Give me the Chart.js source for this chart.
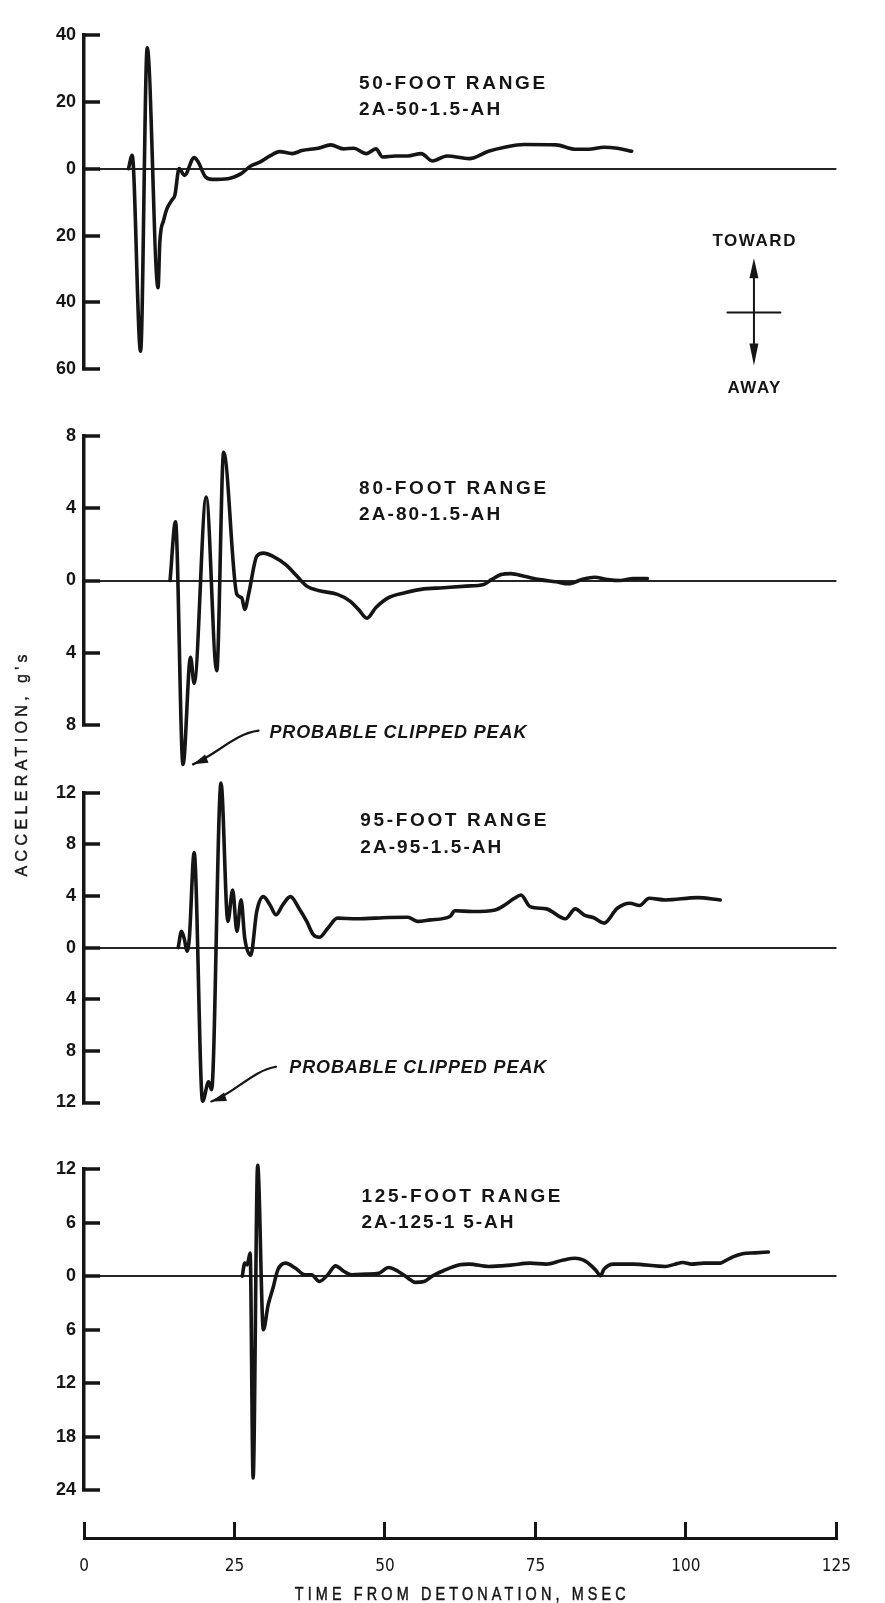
<!DOCTYPE html>
<html lang="en">
<head>
<meta charset="utf-8">
<title>Acceleration records, shot 2A</title>
<script src="https://cdn.jsdelivr.net/npm/chart.js@4.4.1/dist/chart.umd.min.js"></script>
<style>
  html, body { margin: 0; padding: 0; background: #fff; }
  canvas { display: block; }
</style>
</head>
<body>
<canvas id="records" width="885" height="1603"></canvas>
<script>
// ---- time axis (ms after detonation) ----
const timeTicks = [0, 25, 50, 75, 100, 125];

// ---- 50-foot range, gauge 2A-50-1.5-AH ----
const t50 = [7.4, 8.0, 9.4, 10.5, 12.3, 12.6, 13.25, 13.8, 14.6, 15.1, 15.8, 16.7, 18.3, 18.9, 20.2, 21.3,
             23.9, 26.1, 27.7, 29.3, 30.9, 32.5, 34.6, 36.2, 38.9, 41.0, 43.1, 44.8, 46.9, 48.5, 49.6, 51.7,
             53.8, 56.0, 57.9, 60.3, 64.0, 67.2, 69.9, 73.1, 78.4, 81.6, 83.8, 86.4, 88.6, 91.0];
const g50 = [0, 4.0, -54.6, 36.1, -35.6, -21.8, -15.3, -11.9, -9.4, -7.9, 0, -2.0, 3.3, 2.2, -2.5, -3.2,
             -3.0, -1.5, 0.8, 2.0, 3.8, 5.1, 4.5, 5.4, 6.1, 7.1, 5.9, 6.1, 4.5, 5.9, 3.5, 3.8,
             3.8, 4.5, 2.3, 3.8, 3.0, 5.2, 6.4, 7.2, 7.1, 5.8, 5.8, 6.4, 6.1, 5.2];
const ticks50 = [-60, -40, -20, 0, 20, 40];

// ---- 80-foot range, gauge 2A-80-1.5-AH ----
const t80 = [14.3, 15.2, 16.45, 17.7, 18.3, 20.3, 22.05, 23.2, 25.4, 26.2, 26.7, 27.4, 28.7, 29.8, 31.4, 33.5,
             35.4, 37.0, 38.9, 42.1, 44.2, 45.6, 47.0, 48.5, 50.6, 53.3, 56.0, 59.7, 63.5, 66.4, 67.7, 69.3,
             70.9, 73.1, 75.7, 78.4, 80.5, 82.7, 84.8, 87.0, 89.1, 91.2, 93.6];
const g80 = [0, 3.26, -10.2, -4.25, -5.7, 4.63, -5.0, 7.1, -0.77, -0.95, -1.6, -0.68, 1.34, 1.52, 1.34, 0.88,
             0.24, -0.31, -0.55, -0.77, -1.14, -1.6, -2.09, -1.5, -0.95, -0.68, -0.49, -0.4, -0.31, -0.22, 0.05, 0.33,
             0.38, 0.24, 0.05, -0.07, -0.18, 0.05, 0.18, 0.05, 0, 0.11, 0.11];
const ticks80 = [-8, -4, 0, 4, 8];

// ---- 95-foot range, gauge 2A-95-1.5-AH ----
const t95 = [15.65, 16.2, 16.7, 17.1, 17.5, 18.3, 19.7, 20.7, 21.2, 22.76, 23.9, 24.7, 25.4, 26.1, 26.7, 27.7,
             28.7, 29.8, 30.9, 31.9, 33.0, 34.3, 35.7, 37.0, 38.1, 39.1, 40.5, 42.1, 45.3, 50.6, 53.8, 55.4,
             57.6, 60.8, 61.6, 64.5, 68.3, 69.9, 71.5, 72.6, 74.1, 76.8, 80.0, 81.6, 83.2, 84.6, 86.4, 88.6,
             90.7, 92.3, 93.9, 96.6, 101.9, 105.7];
const g95 = [0, 1.26, 0.6, -0.28, 0.74, 7.36, -11.9, -10.4, -11.0, 12.74, 2.03, 4.46, 1.26, 3.7, 0.74, -0.59,
             2.8, 3.95, 3.3, 2.54, 3.3, 3.95, 3.05, 2.03, 1.0, 0.8, 1.5, 2.28, 2.23, 2.33, 2.35, 2.03,
             2.15, 2.41, 2.85, 2.8, 2.92, 3.3, 3.82, 4.08, 3.18, 3.0, 2.23, 3.0, 2.49, 2.33, 1.9, 3.05,
             3.44, 3.26, 3.82, 3.69, 3.87, 3.69];
const ticks95 = [-12, -8, -4, 0, 4, 8, 12];

// ---- 125-foot range, gauge 2A-125-1.5-AH ----
const t125 = [26.3, 26.7, 27.1, 27.6, 28.1, 28.85, 29.8, 30.6, 31.4, 32.2, 33.5, 35.1, 36.7, 37.8, 39.1, 40.5,
              41.8, 43.2, 44.5, 46.9, 49.0, 50.6, 52.2, 53.8, 55.0, 56.5, 58.1, 59.7, 62.4, 64.0, 67.2, 70.9,
              74.1, 76.8, 79.5, 81.6, 83.0, 84.3, 85.1, 85.8, 86.4, 88.0, 91.2, 96.6, 98.2, 99.5, 100.9, 103.0,
              105.7, 106.5, 107.8, 109.4, 111.5, 113.7];
const g125 = [0, 1.45, 1.26, 2.57, -22.6, 12.4, -6.0, -3.2, -1.34, 0.7, 1.45, 0.9, 0.15, 0.15, -0.6, 0.15,
              1.15, 0.52, 0.15, 0.22, 0.33, 0.97, 0.52, -0.2, -0.7, -0.6, 0.1, 0.6, 1.26, 1.34, 1.08, 1.23,
              1.45, 1.34, 1.78, 2.0, 1.78, 1.15, 0.6, 0.04, 0.78, 1.34, 1.34, 1.08, 1.34, 1.52, 1.34, 1.45,
              1.45, 1.7, 2.15, 2.5, 2.6, 2.7];
const ticks125 = [-24, -18, -12, -6, 0, 6, 12];

// ---- text ----
const captions50 = ['50-FOOT RANGE', '2A-50-1.5-AH'];
const captions80 = ['80-FOOT RANGE', '2A-80-1.5-AH'];
const captions95 = ['95-FOOT RANGE', '2A-95-1.5-AH'];
const captions125 = ['125-FOOT RANGE', '2A-125-1 5-AH'];
const clipNote = 'PROBABLE CLIPPED PEAK';
const yTitle = "ACCELERATION, g's";
const xTitle = 'TIME FROM DETONATION, MSEC';
const senseWords = ['TOWARD', 'AWAY'];

// ---- styling ----
const INK = '#151515';
const SANS = '"Liberation Sans", Arial, sans-serif';
const NARROW = '"Liberation Sans Narrow", "DejaVu Sans Condensed", "Liberation Sans", sans-serif';
const AXIS_W = 84;

function points(ts, gs) { return ts.map((t, i) => ({ x: t, y: gs[i] })); }

// one gauge's vertical scale, stacked in a single left column
function gaugeScale(ticks, weight, height) {
  return {
    type: 'linear', position: 'left', stack: 'gauges', stackWeight: height, weight,
    min: ticks[0], max: ticks[ticks.length - 1],
    afterBuildTicks: s => { s.ticks = ticks.map(v => ({ value: v })); },
    afterFit: s => { s.width = AXIS_W; },
    ticks: {
      callback: v => String(Math.abs(v)), color: INK, padding: 24,
      font: { family: SANS, size: 18, weight: 'bold' }
    },
    grid: {
      drawOnChartArea: true, drawTicks: true, tickLength: -16, tickWidth: 3.5, tickColor: INK,
      lineWidth: 2, color: c => (c.tick && c.tick.value === 0) ? '#262626' : 'rgba(0,0,0,0)'
    },
    border: { display: true, color: INK, width: 3.5 }
  };
}
// empty band between two gauges
function gapScale(weight, height) {
  return {
    type: 'linear', position: 'left', stack: 'gauges', stackWeight: height, weight, min: 0, max: 1,
    afterFit: s => { s.width = AXIS_W; },
    ticks: { display: false }, grid: { display: false }, border: { display: false }
  };
}

function trace(ts, gs, axis) {
  return {
    data: points(ts, gs), yAxisID: axis, xAxisID: 'x',
    borderColor: INK, borderWidth: 3.6, pointRadius: 0, fill: false,
    cubicInterpolationMode: 'monotone', borderJoinStyle: 'round', borderCapStyle: 'round', clip: false
  };
}

// text stretched to a given run length, anchored at its left end on the cap-height centre
function spaced(ctx, text, x, y, width, size, font, opts = {}) {
  ctx.save();
  ctx.font = font;
  ctx.letterSpacing = '0px';
  const sx = opts.squeeze || 1;
  const n = [...text].length;
  const w0 = ctx.measureText(text).width * sx;
  const sp = n > 1 ? (width - w0) / (n - 1) / sx : 0;
  ctx.letterSpacing = sp.toFixed(2) + 'px';
  ctx.textAlign = 'left';
  ctx.textBaseline = 'alphabetic';
  ctx.translate(x, y);
  if (opts.rotate) ctx.rotate(opts.rotate);
  ctx.scale(sx, 1);
  const base = size * 0.36;
  ctx.fillText(text, 0, base);
  if (opts.stroke) { ctx.lineWidth = opts.stroke; ctx.strokeText(text, 0, base); }
  ctx.restore();
}

function head(ctx, tx, ty, fx, fy, len, half) {
  const a = Math.atan2(ty - fy, tx - fx), c = Math.cos(a), s = Math.sin(a);
  ctx.beginPath();
  ctx.moveTo(tx, ty);
  ctx.lineTo(tx - len * c + half * s, ty - len * s - half * c);
  ctx.lineTo(tx - len * c - half * s, ty - len * s + half * c);
  ctx.closePath();
  ctx.fill();
}

// caption blocks, placed in (ms, g) of their own gauge
const captions = [
  { axis: 'y50', t: 45.7, g: 25.7, lines: captions50, widths: [186, 141], lead: 26 },
  { axis: 'y80', t: 45.7, g: 5.2, lines: captions80, widths: [187, 141], lead: 26 },
  { axis: 'y95', t: 45.9, g: 9.92, lines: captions95, widths: [186, 141], lead: 27 },
  { axis: 'y125', t: 46.1, g: 9.08, lines: captions125, widths: [199, 152], lead: 26 }
];
// clipped-peak remarks: text anchor and leader curve (cubic), in (ms, g)
const clipRemarks = [
  { axis: 'y80', at: [30.8, -8.37], leader: [[29.0, -8.32], [25.0, -8.49], [22.1, -9.64], [18.1, -10.19]] },
  { axis: 'y95', at: [34.1, -9.23], leader: [[31.9, -9.23], [27.9, -9.54], [25.0, -11.31], [21.15, -11.92]] }
];

const notes = {
  id: 'notes',
  afterDraw(chart) {
    const { ctx, scales } = chart;
    const X = v => scales.x.getPixelForValue(v);
    const Y = (id, v) => scales[id].getPixelForValue(v);
    ctx.save();
    ctx.fillStyle = INK;
    ctx.strokeStyle = INK;

    captions.forEach(c => {
      const x = X(c.t), y = Y(c.axis, c.g);
      c.lines.forEach((line, i) =>
        spaced(ctx, line, x, y + i * c.lead, c.widths[i], 19, 'bold 19px ' + SANS));
    });

    clipRemarks.forEach(r => {
      spaced(ctx, clipNote, X(r.at[0]), Y(r.axis, r.at[1]), 257, 18, 'italic bold 18px ' + SANS);
      const p = r.leader.map(([t, g]) => [X(t), Y(r.axis, g)]);
      ctx.lineWidth = 2.2;
      ctx.lineCap = 'round';
      ctx.beginPath();
      ctx.moveTo(p[0][0], p[0][1]);
      ctx.bezierCurveTo(p[1][0], p[1][1], p[2][0], p[2][1], p[3][0], p[3][1]);
      ctx.stroke();
      head(ctx, p[3][0], p[3][1], p[2][0], p[2][1], 15, 4.5);
    });

    // sense of motion key
    const kx = X(111.3);
    spaced(ctx, senseWords[0], kx - 41.5, Y('y50', -21.2), 83, 17, 'bold 17px ' + SANS);
    spaced(ctx, senseWords[1], kx - 26.5, Y('y50', -65.1), 53, 17, 'bold 17px ' + SANS);
    const top = Y('y50', -26.8), bot = Y('y50', -58.8), bar = Y('y50', -43.0);
    ctx.lineWidth = 2;
    ctx.beginPath();
    ctx.moveTo(kx, top + 10); ctx.lineTo(kx, bot - 10);
    ctx.moveTo(X(106.9), bar); ctx.lineTo(X(115.7), bar);
    ctx.stroke();
    head(ctx, kx, top, kx, top + 30, 20, 4.5);
    head(ctx, kx, bot, kx, bot - 30, 22, 4.5);

    // axis titles
    const yMid = Y('y80', -10.25);
    spaced(ctx, yTitle, 21, yMid + 111, 222, 16, '16px ' + SANS, { rotate: -Math.PI / 2, stroke: 0.4 });
    const xMid = X(62.5);
    spaced(ctx, xTitle, xMid - 165.5, chart.height - 9, 331, 18, '18px ' + SANS, { squeeze: 0.8, stroke: 0.5 });
    ctx.restore();
  }
};

Chart.defaults.color = INK;
Chart.defaults.font.family = SANS;

new Chart(document.getElementById('records'), {
  type: 'line',
  data: {
    datasets: [
      trace(t50, g50, 'y50'),
      trace(t80, g80, 'y80'),
      trace(t95, g95, 'y95'),
      trace(t125, g125, 'y125')
    ]
  },
  options: {
    responsive: false,
    animation: false,
    events: [],
    layout: { padding: { top: 22.7, right: 21, bottom: 0, left: 0 } },
    plugins: { legend: { display: false }, tooltip: { enabled: false }, title: { display: false } },
    scales: {
      x: {
        type: 'linear', position: 'bottom', min: 0, max: 125,
        afterBuildTicks: s => { s.ticks = timeTicks.map(v => ({ value: v })); },
        afterFit: s => { s.height = 65; },
        ticks: { color: INK, padding: 34, maxRotation: 0, autoSkip: false, font: { family: NARROW, size: 17 } },
        grid: { drawOnChartArea: false, drawTicks: true, tickLength: -16, tickWidth: 3, tickColor: INK, color: INK },
        border: { display: true, color: INK, width: 3 }
      },
      y50: gaugeScale(ticks50, 8, 337.3),
      gap1: gapScale(7, 67.3),
      y80: gaugeScale(ticks80, 6, 291),
      gap2: gapScale(5, 68.4),
      y95: gaugeScale(ticks95, 4, 312.3),
      gap3: gapScale(3, 67),
      y125: gaugeScale(ticks125, 2, 324),
      gap4: gapScale(1, 48)
    }
  },
  plugins: [notes]
});
</script>
</body>
</html>
